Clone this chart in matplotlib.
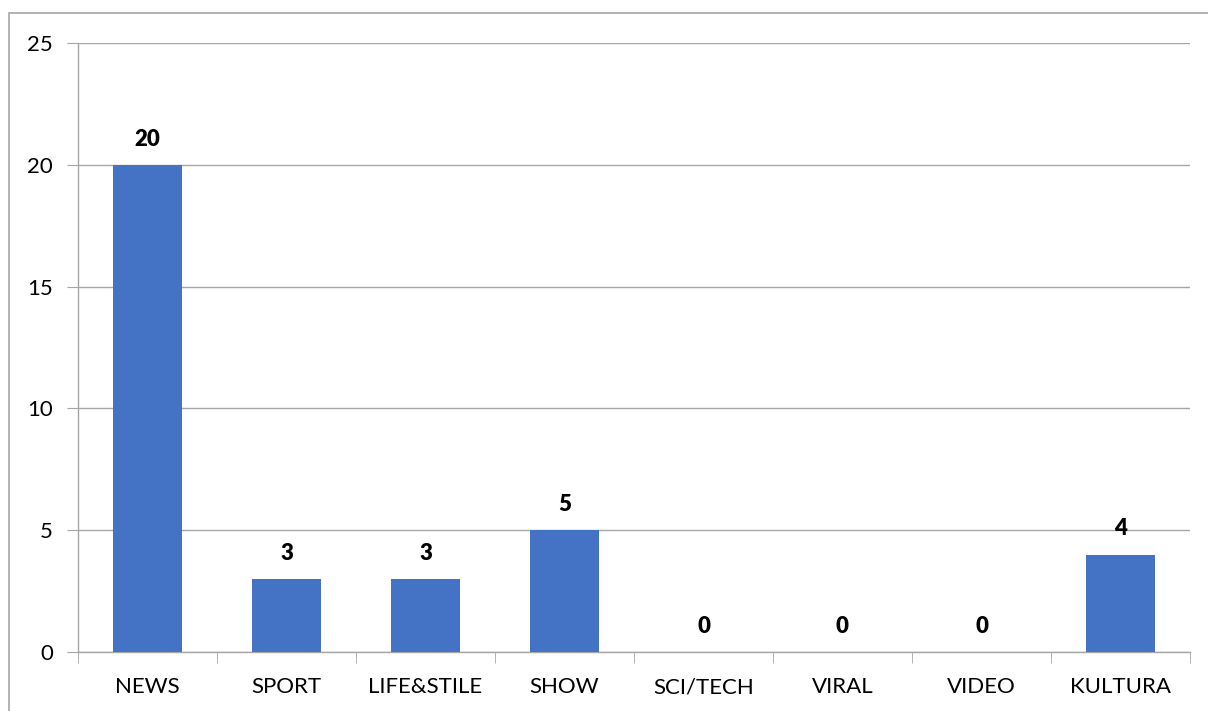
import matplotlib.pyplot as plt
import matplotlib.patches as patches
import numpy as np

categories = ['NEWS', 'SPORT', 'LIFE&STILE', 'SHOW', 'SCI/TECH', 'VIRAL', 'VIDEO', 'KULTURA']
values = [20, 3, 3, 5, 0, 0, 0, 4]

plt.rcParams['font.family'] = ['Lato', 'DejaVu Sans']

fig = plt.figure(figsize=(12.08, 7.11), dpi=100)
# chart area border
fig.patches.append(patches.Rectangle((9 / 1208, -0.1), 1.2, 1 - 13 / 711 + 0.1,
                                     transform=fig.transFigure, fill=False,
                                     edgecolor='#a6a6a6', linewidth=1.2))
ax = fig.add_axes([78 / 1208, 1 - 652 / 711, (1190 - 78) / 1208, (652 - 43) / 711])

x = np.arange(len(categories))
ax.bar(x, values, width=0.5, color='#4472c4', zorder=3)
for xi, v in zip(x, values):
    ax.annotate(str(v), (xi, v), xytext=(0, 11), textcoords='offset points',
                ha='center', va='bottom', fontsize=16, fontweight='heavy')

ax.set_xlim(-0.5, len(categories) - 0.5)
ax.set_ylim(0, 25)
ax.set_yticks([0, 5, 10, 15, 20, 25])
ax.set_xticks(x)
ax.set_xticklabels(categories, fontsize=16)
ax.set_xticks(np.arange(len(categories) + 1) - 0.5, minor=True)
ax.tick_params(axis='x', which='major', length=0, pad=18)
ax.tick_params(axis='x', which='minor', length=8, color='#a6a6a6')
ax.tick_params(axis='y', length=8, color='#a6a6a6', labelsize=16, pad=10)
ax.grid(axis='y', color='#a6a6a6', linewidth=1, zorder=0)

for s in ['top', 'right']:
    ax.spines[s].set_visible(False)
for s in ['left', 'bottom']:
    ax.spines[s].set_color('#a6a6a6')
    ax.spines[s].set_linewidth(1)

plt.savefig('out.png', dpi=100)
